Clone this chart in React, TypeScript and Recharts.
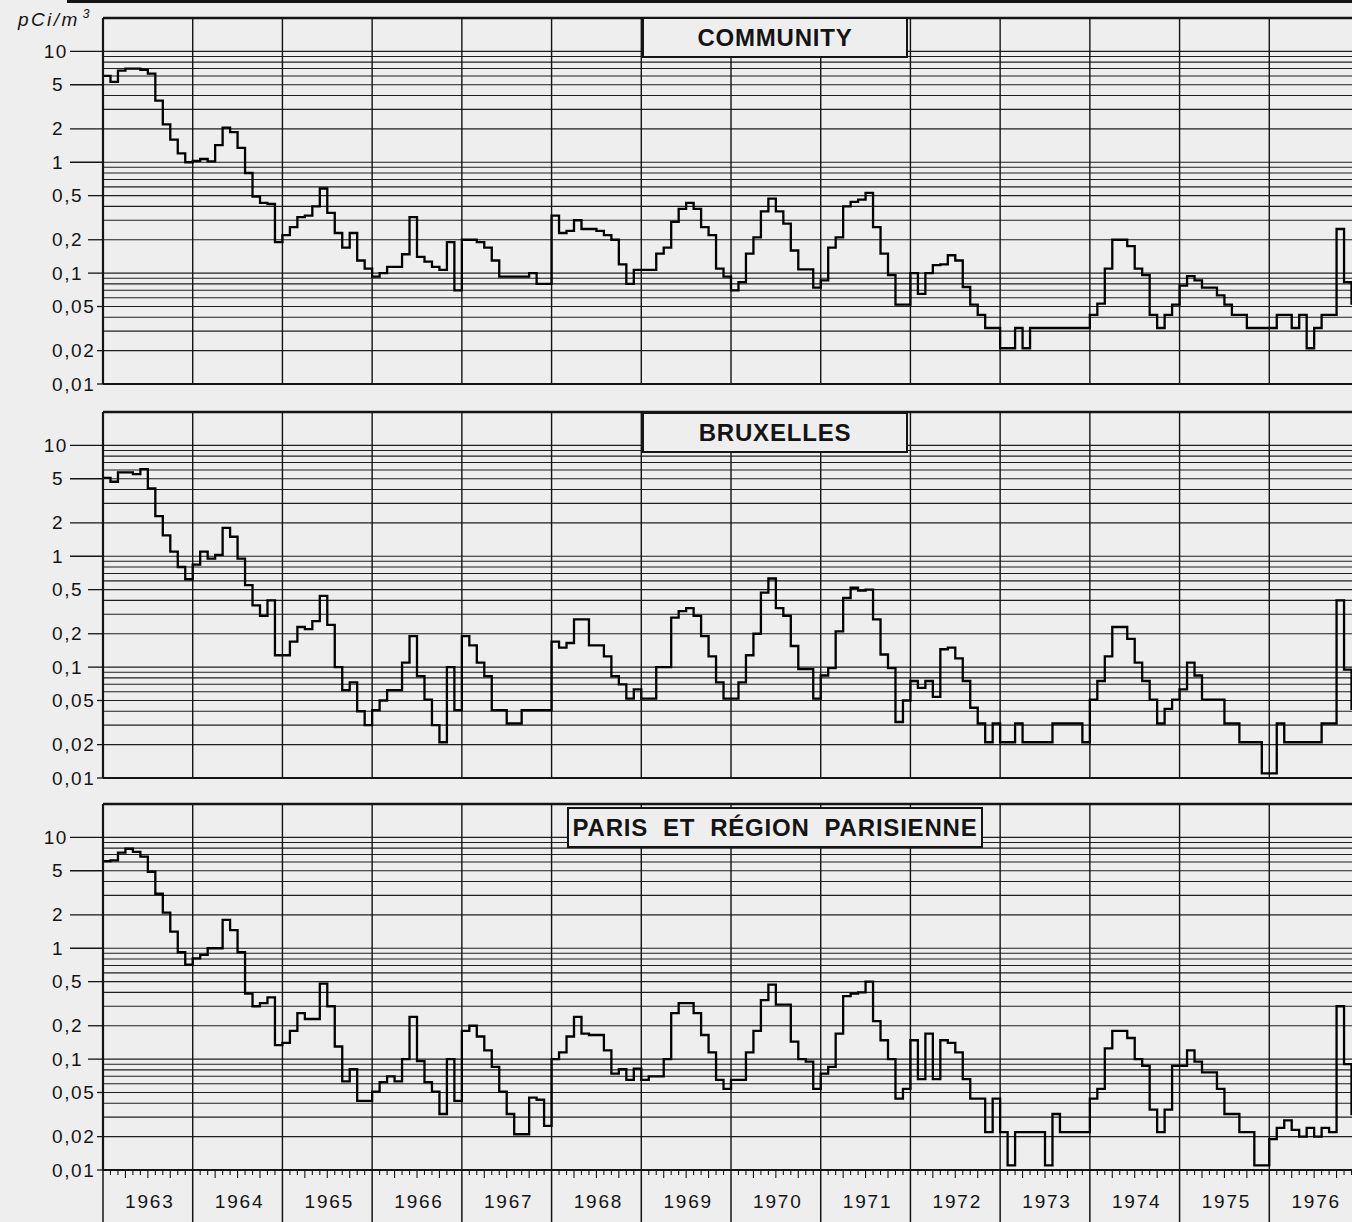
import React from 'react';
import { LineChart, Line, XAxis, YAxis, CartesianGrid, ReferenceLine } from 'recharts';

// ---------- data ----------
const FIRST_YEAR = 1963;
const LAST_YEAR_END = 1977;
const yearLabels = ['1963', '1964', '1965', '1966', '1967', '1968', '1969', '1970', '1971', '1972', '1973', '1974', '1975', '1976'];
const yearBoundaries = [1964, 1965, 1966, 1967, 1968, 1969, 1970, 1971, 1972, 1973, 1974, 1975, 1976];

const gridValues = [
  0.01, 0.02, 0.03, 0.04, 0.05, 0.06, 0.07, 0.08, 0.09,
  0.1, 0.2, 0.3, 0.4, 0.5, 0.6, 0.7, 0.8, 0.9,
  1, 2, 3, 4, 5, 6, 7, 8, 9, 10,
];
const labeledTicks = [0.01, 0.02, 0.05, 0.1, 0.2, 0.5, 1, 2, 5, 10];
const tickLabels = ['0,01', '0,02', '0,05', '0,1', '0,2', '0,5', '1', '2', '5', '10'];

const panelTitles = ['COMMUNITY', 'BRUXELLES', 'PARIS  ET  RÉGION  PARISIENNE'];
const unitLabel = 'pCi/m';

// monthly values, pCi/m3, Jan..Dec per row
const communityValues = [
  6.0, 5.3, 6.7, 7.0, 7.0, 6.8, 6.3, 3.6, 2.2, 1.6, 1.2, 1.0, // 1963
  1.03, 1.07, 1.02, 1.43, 2.05, 1.87, 1.35, 0.8, 0.49, 0.43, 0.42, 0.19, // 1964
  0.22, 0.26, 0.32, 0.33, 0.4, 0.58, 0.35, 0.23, 0.17, 0.23, 0.13, 0.11, // 1965
  0.093, 0.1, 0.114, 0.114, 0.148, 0.32, 0.14, 0.127, 0.114, 0.107, 0.19, 0.07, // 1966
  0.2, 0.2, 0.19, 0.17, 0.13, 0.093, 0.093, 0.093, 0.093, 0.1, 0.08, 0.08, // 1967
  0.33, 0.23, 0.24, 0.3, 0.25, 0.25, 0.24, 0.22, 0.2, 0.12, 0.08, 0.107, // 1968
  0.107, 0.107, 0.15, 0.17, 0.29, 0.38, 0.43, 0.38, 0.26, 0.22, 0.11, 0.093, // 1969
  0.07, 0.083, 0.15, 0.21, 0.36, 0.47, 0.36, 0.28, 0.16, 0.108, 0.108, 0.074, // 1970
  0.086, 0.17, 0.21, 0.4, 0.44, 0.46, 0.53, 0.26, 0.15, 0.096, 0.052, 0.052, // 1971
  0.1, 0.065, 0.1, 0.118, 0.12, 0.145, 0.13, 0.075, 0.052, 0.042, 0.032, 0.032, // 1972
  0.021, 0.021, 0.032, 0.021, 0.032, 0.032, 0.032, 0.032, 0.032, 0.032, 0.032, 0.032, // 1973
  0.042, 0.053, 0.11, 0.2, 0.2, 0.175, 0.11, 0.096, 0.042, 0.032, 0.042, 0.052, // 1974
  0.077, 0.094, 0.086, 0.074, 0.074, 0.063, 0.052, 0.042, 0.042, 0.032, 0.032, 0.032, // 1975
  0.032, 0.042, 0.042, 0.032, 0.042, 0.021, 0.032, 0.042, 0.042, 0.25, 0.083, 0.053, // 1976
];

const bruxellesValues = [
  5.1, 4.7, 5.7, 5.7, 5.5, 6.1, 4.1, 2.3, 1.54, 1.1, 0.8, 0.62, // 1963
  0.84, 1.1, 0.95, 1.03, 1.8, 1.5, 0.95, 0.55, 0.36, 0.29, 0.4, 0.128, // 1964
  0.128, 0.17, 0.23, 0.22, 0.26, 0.44, 0.24, 0.1, 0.062, 0.073, 0.04, 0.03, // 1965
  0.041, 0.05, 0.062, 0.062, 0.11, 0.19, 0.083, 0.051, 0.03, 0.021, 0.1, 0.041, // 1966
  0.19, 0.157, 0.11, 0.083, 0.041, 0.041, 0.031, 0.031, 0.041, 0.041, 0.041, 0.041, // 1967
  0.17, 0.15, 0.165, 0.27, 0.27, 0.157, 0.157, 0.125, 0.083, 0.07, 0.052, 0.063, // 1968
  0.052, 0.052, 0.1, 0.1, 0.28, 0.32, 0.34, 0.29, 0.19, 0.125, 0.073, 0.052, // 1969
  0.052, 0.073, 0.128, 0.2, 0.47, 0.63, 0.34, 0.29, 0.155, 0.096, 0.096, 0.052, // 1970
  0.084, 0.098, 0.21, 0.42, 0.52, 0.49, 0.5, 0.27, 0.13, 0.098, 0.032, 0.05, // 1971
  0.075, 0.065, 0.075, 0.054, 0.145, 0.15, 0.12, 0.075, 0.043, 0.031, 0.021, 0.031, // 1972
  0.021, 0.021, 0.031, 0.021, 0.021, 0.021, 0.021, 0.031, 0.031, 0.031, 0.031, 0.021, // 1973
  0.051, 0.075, 0.125, 0.23, 0.23, 0.18, 0.11, 0.075, 0.051, 0.031, 0.042, 0.051, // 1974
  0.063, 0.11, 0.084, 0.051, 0.051, 0.051, 0.031, 0.031, 0.021, 0.021, 0.021, 0.011, // 1975
  0.011, 0.031, 0.021, 0.021, 0.021, 0.021, 0.021, 0.031, 0.031, 0.4, 0.095, 0.042, // 1976
];

const parisValues = [
  6.1, 6.2, 7.3, 7.9, 7.4, 6.7, 4.9, 3.1, 2.1, 1.41, 0.92, 0.71, // 1963
  0.81, 0.87, 1.0, 1.0, 1.8, 1.46, 0.92, 0.39, 0.3, 0.32, 0.36, 0.134, // 1964
  0.14, 0.18, 0.26, 0.23, 0.23, 0.48, 0.3, 0.13, 0.063, 0.081, 0.042, 0.042, // 1965
  0.051, 0.062, 0.07, 0.063, 0.1, 0.24, 0.096, 0.062, 0.051, 0.032, 0.1, 0.042, // 1966
  0.18, 0.2, 0.16, 0.12, 0.085, 0.051, 0.032, 0.021, 0.021, 0.045, 0.043, 0.025, // 1967
  0.1, 0.115, 0.16, 0.24, 0.17, 0.165, 0.165, 0.12, 0.074, 0.081, 0.065, 0.082, // 1968
  0.065, 0.07, 0.07, 0.1, 0.26, 0.32, 0.32, 0.26, 0.165, 0.115, 0.065, 0.054, // 1969
  0.065, 0.065, 0.115, 0.18, 0.34, 0.47, 0.31, 0.31, 0.144, 0.1, 0.095, 0.054, // 1970
  0.074, 0.085, 0.17, 0.37, 0.39, 0.4, 0.5, 0.22, 0.148, 0.1, 0.044, 0.054, // 1971
  0.148, 0.066, 0.17, 0.066, 0.148, 0.14, 0.115, 0.066, 0.044, 0.044, 0.022, 0.044, // 1972
  0.022, 0.011, 0.022, 0.022, 0.022, 0.022, 0.011, 0.032, 0.022, 0.022, 0.022, 0.022, // 1973
  0.044, 0.054, 0.125, 0.18, 0.18, 0.155, 0.1, 0.087, 0.035, 0.022, 0.035, 0.087, // 1974
  0.087, 0.12, 0.095, 0.076, 0.076, 0.054, 0.032, 0.032, 0.022, 0.022, 0.011, 0.011, // 1975
  0.019, 0.024, 0.028, 0.023, 0.02, 0.024, 0.02, 0.024, 0.022, 0.3, 0.09, 0.032, // 1976
];

// ---------- helpers ----------
const buildSeries = (values: number[]) => {
  const rows = values.map((v, i) => ({ t: FIRST_YEAR + i / 12, v }));
  rows.push({ t: FIRST_YEAR + values.length / 12, v: values[values.length - 1] });
  return rows;
};

const monthTicks: number[] = [];
for (let i = 0; i <= (LAST_YEAR_END - FIRST_YEAR) * 12; i++) monthTicks.push(FIRST_YEAR + i / 12);

const INK = '#141414';
const BG = '#eeeeee';
const FONT = '"Liberation Sans", Arial, Helvetica, sans-serif';
const AXIS_X = 103;

const YTick = (props: any) => {
  const { y, payload } = props;
  const idx = labeledTicks.indexOf(payload.value);
  if (idx < 0) return <g />;
  const label = tickLabels[idx];
  const isTen = label === '10';
  const lineStart = label.length <= 2 ? 70 : label.length === 3 ? 88 : 97;
  return (
    <g>
      <text
        x={isTen ? 68 : 52}
        y={y}
        dy={6.5}
        textAnchor={isTen ? 'end' : 'start'}
        fontSize={19}
        letterSpacing={1.6}
        fontFamily={FONT}
        fill={INK}
      >
        {label}
      </text>
      <line x1={lineStart} x2={AXIS_X} y1={y} y2={y} stroke={INK} strokeWidth={1.3} />
    </g>
  );
};

const XTick = (props: any) => {
  const { x, y, payload } = props;
  const idx = Math.round((payload.value - FIRST_YEAR) * 12);
  const m = idx % 12;
  const yr = Math.floor(idx / 12);
  if (m === 0) {
    return <line x1={x} x2={x} y1={y} y2={y + 60} stroke={INK} strokeWidth={1.5} />;
  }
  const len = m % 3 === 0 ? 8 : 5;
  return (
    <g>
      <line x1={x} x2={x} y1={y} y2={y + len} stroke={INK} strokeWidth={1.1} />
      {m === 6 && yearLabels[yr] ? (
        <text x={x + 2} y={y + 38} textAnchor="middle" fontSize={19} letterSpacing={1.8} fontFamily={FONT} fill={INK}>
          {yearLabels[yr]}
        </text>
      ) : null}
    </g>
  );
};

type PanelProps = { values: number[]; top: number; withAxis: boolean };

const Panel = ({ values, top, withAxis }: PanelProps) => {
  const data = buildSeries(values);
  const height = withAxis ? 436 : 400;
  return (
    <div style={{ position: 'absolute', left: 0, top }}>
      <LineChart
        width={1400}
        height={height}
        data={data}
        margin={{ top: 18, right: 41, bottom: withAxis ? 0 : 16, left: 0 }}
      >
        <CartesianGrid vertical={false} stroke="#1e1e1e" strokeWidth={1.1} />
        <XAxis
          type="number"
          dataKey="t"
          domain={[FIRST_YEAR, LAST_YEAR_END]}
          ticks={monthTicks}
          interval={0}
          hide={!withAxis}
          height={withAxis ? 52 : 0}
          tickSize={0}
          tickMargin={0}
          tickLine={false}
          axisLine={{ stroke: INK, strokeWidth: 2 }}
          tick={XTick}
          allowDataOverflow
        />
        <YAxis
          type="number"
          scale="log"
          domain={[0.01, 20]}
          ticks={gridValues}
          interval={0}
          width={AXIS_X}
          tickLine={false}
          axisLine={{ stroke: INK, strokeWidth: 2.2 }}
          tick={YTick}
          allowDataOverflow
        />
        {yearBoundaries.map((yv) => (
          <ReferenceLine key={yv} x={yv} stroke={INK} strokeWidth={1.4} />
        ))}
        <ReferenceLine y={20} stroke={INK} strokeWidth={2.5} />
        <ReferenceLine y={0.01} stroke={INK} strokeWidth={2} />
        <Line
          type="stepAfter"
          dataKey="v"
          stroke="#000"
          strokeWidth={2.3}
          dot={false}
          activeDot={false}
          isAnimationActive={false}
        />
      </LineChart>
    </div>
  );
};

const TitleBox = ({ text, left, top, width }: { text: string; left: number; top: number; width: number }) => (
  <div
    style={{
      position: 'absolute',
      left,
      top,
      width,
      height: 41,
      boxSizing: 'border-box',
      border: `2px solid ${INK}`,
      background: BG,
      display: 'flex',
      alignItems: 'center',
      justifyContent: 'center',
      fontFamily: FONT,
      fontWeight: 700,
      fontSize: 24,
      letterSpacing: 0.8,
      whiteSpace: 'pre',
      color: INK,
    }}
  >
    {text}
  </div>
);

export default function App() {
  return (
    <div
      style={{
        position: 'absolute',
        left: 0,
        top: 0,
        width: 1352,
        height: 1222,
        overflow: 'hidden',
        background: BG,
        fontFamily: FONT,
      }}
    >
      <div style={{ position: 'absolute', left: 67, top: 0, width: 1300, height: 3, background: INK }} />
      <div
        style={{
          position: 'absolute',
          left: 18,
          top: 9,
          fontSize: 19,
          fontStyle: 'italic',
          letterSpacing: 2.4,
          color: INK,
          whiteSpace: 'nowrap',
        }}
      >
        {unitLabel}
        <span style={{ fontSize: 12, position: 'relative', top: -8, marginLeft: 3 }}>3</span>
      </div>

      <Panel values={communityValues} top={0} withAxis={false} />
      <Panel values={bruxellesValues} top={394} withAxis={false} />
      <Panel values={parisValues} top={786} withAxis={true} />

      <TitleBox text={panelTitles[0]} left={642} top={17} width={266} />
      <TitleBox text={panelTitles[1]} left={642} top={412} width={266} />
      <TitleBox text={panelTitles[2]} left={567} top={807} width={416} />
    </div>
  );
}
